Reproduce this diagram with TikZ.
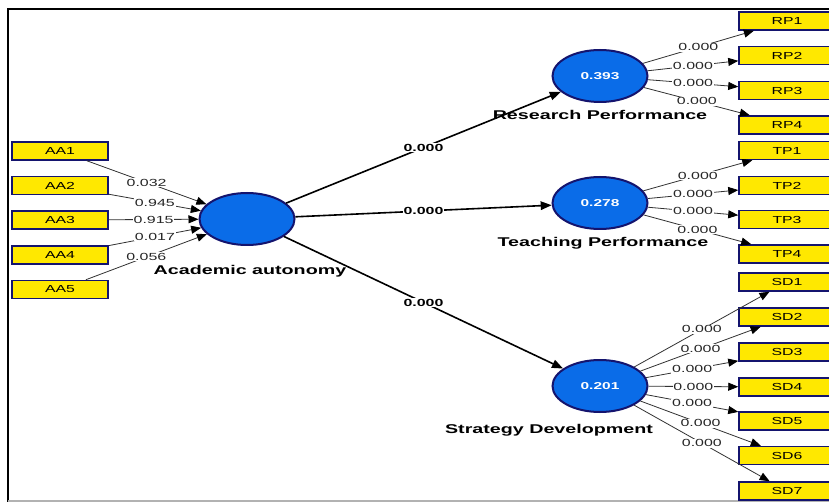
\documentclass[tikz,border=0pt]{standalone}
\usepackage{fontspec}
\newfontfamily\wf[FakeStretch=1.55]{Liberation Sans}
\usetikzlibrary{shapes.geometric,arrows.meta}
\definecolor{boxyellow}{RGB}{255,232,0}
\definecolor{navy}{RGB}{20,20,110}
\definecolor{lvblue}{RGB}{10,108,232}
\definecolor{lgray}{RGB}{50,50,50}
\begin{document}
\begin{tikzpicture}[x=1pt,y=-1pt,
 ind/.style={draw=lgray, line width=0.8pt, -{Triangle[length=10pt,width=8pt,color=black]}},
 struct/.style={draw=black, line width=1.6pt, -{Triangle[length=11pt,width=8.5pt]}},
 mbox/.style={draw=navy, line width=1.5pt, fill=boxyellow, minimum width=96pt, minimum height=18pt, inner sep=0pt, font=\wf\fontsize{10.2pt}{12pt}\selectfont},
 lv/.style={ellipse, draw=navy, line width=2pt, fill=lvblue, minimum width=95pt, minimum height=52pt, inner sep=0pt, text=white, font=\wf\bfseries\fontsize{10pt}{12pt}\selectfont},
 lbl/.style={fill=white, inner sep=0.8pt, text=black!85, font=\wf\fontsize{10.3pt}{12pt}\selectfont},
 blbl/.style={fill=white, inner sep=1pt, font=\wf\bfseries\fontsize{10.3pt}{12pt}\selectfont},
 lvname/.style={font=\wf\bfseries\fontsize{12.7pt}{15pt}\selectfont}]
\path[use as bounding box, clip] (0,0) rectangle (829,502);
\fill[white] (0,0) rectangle (829,502);
% frame
\draw[line width=2.5pt] (8,502) -- (8,9) -- (835,9);
\draw[gray!60, line width=1.5pt] (8,501) -- (835,501);
% latent variables
\node[lv] (AA) at (247,219) {};
\node[lv] (RP) at (600,76) {0.393};
\node[lv] (TP) at (600,203) {0.278};
\node[lv] (SD) at (600,386) {0.201};
\node[lvname] (AAn) at (250,271) {Academic autonomy};
\node[lvname] (RPn) at (600,115) {Research Performance};
\node[lvname] (TPn) at (603,243) {Teaching Performance};
\node[lvname] (SDn) at (549,430) {Strategy Development};
% indicators
\node[mbox] (AA1) at (60,151) {AA1};
\node[mbox] (AA2) at (60,185.5) {AA2};
\node[mbox] (AA3) at (60,220) {AA3};
\node[mbox] (AA4) at (60,255) {AA4};
\node[mbox] (AA5) at (60,289.5) {AA5};
\node[mbox] (RP1) at (787,21) {RP1};
\node[mbox] (RP2) at (787,55.5) {RP2};
\node[mbox] (RP3) at (787,90.5) {RP3};
\node[mbox] (RP4) at (787,125) {RP4};
\node[mbox] (TP1) at (787,150.5) {TP1};
\node[mbox] (TP2) at (787,185.5) {TP2};
\node[mbox] (TP3) at (787,219.5) {TP3};
\node[mbox] (TP4) at (787,254) {TP4};
\node[mbox] (SD1) at (787,282) {SD1};
\node[mbox] (SD2) at (787,317) {SD2};
\node[mbox] (SD3) at (787,352) {SD3};
\node[mbox] (SD4) at (787,387) {SD4};
\node[mbox] (SD5) at (787,421) {SD5};
\node[mbox] (SD6) at (787,455.5) {SD6};
\node[mbox] (SD7) at (787,491) {SD7};
% formative paths
\draw[ind] (AA1) -- node[lbl]{0.032} (AA);
\draw[ind] (AA2) -- node[lbl]{0.945} (AA);
\draw[ind] (AA3) -- node[lbl]{0.915} (AA);
\draw[ind] (AA4) -- node[lbl]{0.017} (AA);
\draw[ind] (AA5) -- node[lbl]{0.056} (AA);
% structural paths
\draw[struct] (AA) -- node[blbl]{0.000} (RP);
\draw[struct] (AA) -- node[blbl]{0.000} (TP);
\draw[struct] (AA) -- node[blbl]{0.000} (SD);
% reflective paths
\foreach \i in {1,...,4}{\draw[ind] (RP) -- node[lbl]{0.000} (RP\i);}
\foreach \i in {1,...,4}{\draw[ind] (TP) -- node[lbl]{0.000} (TP\i);}
\foreach \i in {1,...,7}{\draw[ind] (SD) -- node[lbl]{0.000} (SD\i);}
\end{tikzpicture}
\end{document}
